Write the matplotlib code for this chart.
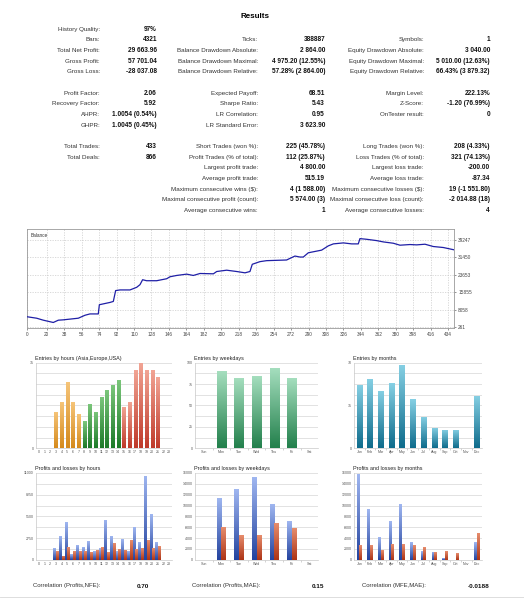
import numpy as np
import matplotlib
matplotlib.use("Agg")
import matplotlib.pyplot as plt
from matplotlib.colors import LinearSegmentedColormap

plt.rcParams['font.family'] = ['Liberation Sans', 'DejaVu Sans']

# ---------------- data ----------------
title = "Results"
table_rows = [0, 1, 2, 3, 4, 6, 7, 8, 9, 11, 12, 13, 14, 15, 16, 17]
col1_labels = ["History Quality:", "Bars:", "Total Net Profit:", "Gross Profit:", "Gross Loss:",
               "Profit Factor:", "Recovery Factor:", "AHPR:", "GHPR:",
               "Total Trades:", "Total Deals:", "", "", "", "", ""]
col1_values = ["97%", "4321", "29 663.96", "57 701.04", "-28 037.08",
               "2.06", "5.92", "1.0054 (0.54%)", "1.0045 (0.45%)",
               "433", "866", "", "", "", "", ""]
col2_labels = ["", "Ticks:", "Balance Drawdown Absolute:", "Balance Drawdown Maximal:", "Balance Drawdown Relative:",
               "Expected Payoff:", "Sharpe Ratio:", "LR Correlation:", "LR Standard Error:",
               "Short Trades (won %):", "Profit Trades (% of total):", "Largest profit trade:",
               "Average profit trade:", "Maximum consecutive wins ($):",
               "Maximal consecutive profit (count):", "Average consecutive wins:"]
col2_values = ["", "388887", "2 864.00", "4 975.20 (12.55%)", "57.28% (2 864.00)",
               "68.51", "5.43", "0.95", "3 623.90",
               "225 (45.78%)", "112 (25.87%)", "4 800.00", "515.19", "4 (1 588.00)",
               "5 574.00 (3)", "1"]
col3_labels = ["", "Symbols:", "Equity Drawdown Absolute:", "Equity Drawdown Maximal:", "Equity Drawdown Relative:",
               "Margin Level:", "Z-Score:", "OnTester result:", "",
               "Long Trades (won %):", "Loss Trades (% of total):", "Largest loss trade:",
               "Average loss trade:", "Maximum consecutive losses ($):",
               "Maximal consecutive loss (count):", "Average consecutive losses:"]
col3_values = ["", "1", "3 040.00", "5 010.00 (12.63%)", "66.43% (3 879.32)",
               "222.13%", "-1.20 (76.99%)", "0", "",
               "208 (4.33%)", "321 (74.13%)", "-200.00", "-87.34", "19 (-1 551.80)",
               "-2 014.88 (18)", "4"]

# balance curve (trade number, balance)
bal_trade = [0, 9.6, 16.5, 26.8, 32, 37, 52.6, 59.5, 64.6, 73.2, 74.3, 85.3, 88.7, 91.1, 95.6,
             105.9, 112.8, 116.2, 118.9, 123, 133.4, 143.7, 147.1, 154, 164.3, 171.2, 178.1,
             191.9, 195.3, 205.6, 215.9, 224.5, 229.6, 232, 239.9, 246.8, 267.4, 270.9, 276,
             281.2, 284.6, 289.8, 298.4, 303.5, 310.4, 315.6, 325.9, 334.5, 341.3, 343, 349.9,
             360.2, 367.1, 377.4, 384.3, 394.6, 401.5, 410.1, 418.6, 428.9, 440]
bal_value = [5000, 4366, 3486, 2460, 3486, 3633, 4366, 5685, 6272, 6272, 10376, 11403, 11843,
             16680, 16970, 16970, 18146, 19319, 21518, 21078, 21078, 21958, 22837, 23424, 24010,
             23424, 24303, 24157, 25183, 25770, 25183, 24597, 25183, 28408, 29581, 30021, 30314,
             31047, 32073, 31634, 31634, 33539, 34272, 34712, 36617, 37497, 37937, 37497, 37497,
             39843, 39550, 38963, 38377, 37791, 36911, 37204, 37058, 37351, 36325, 35885, 34858]
bal_xticks = [0, 20, 38, 56, 74, 92, 110, 128, 146, 164, 182, 200, 218, 236, 254, 272, 290,
              308, 326, 344, 362, 380, 398, 416, 434]
bal_yticks = [261, 8058, 15855, 23653, 31450, 39247]

hours = list(range(24))
hour_labels = [str(h) for h in hours]
entries_hours = [0, 0, 0, 15, 19, 27, 19, 14, 11, 18, 15, 21, 24, 26, 28, 17, 19, 32, 35, 32, 32, 29, 0, 0]
weekdays = ["Sun", "Mon", "Tue", "Wed", "Thu", "Fri", "Sat"]
entries_weekdays = [0, 90, 82, 85, 94, 82, 0]
months = ["Jan", "Feb", "Mar", "Apr", "May", "Jun", "Jul", "Aug", "Sep", "Oct", "Nov", "Dec"]
entries_months = [52, 57, 47, 53, 68, 40, 26, 17, 15, 15, 0, 43]

profit_hours = [0, 0, 0, 1480, 3000, 4740, 720, 1820, 1610, 2410, 1060, 1480, 5080, 3000, 1060,
                2620, 1060, 4100, 2280, 10660, 5800, 2280, 0, 0]
loss_hours = [0, 0, 0, 1060, 510, 1570, 1060, 1100, 1060, 970, 1180, 1570, 970, 2070, 1310,
              1270, 2450, 1310, 1440, 2500, 1520, 1690, 0, 0]
profit_weekdays = [0, 11400, 13060, 15260, 10240, 7110, 0]
loss_weekdays = [0, 6000, 4500, 4600, 6800, 5900, 0]
profit_months = [15870, 9290, 4180, 7130, 10330, 3320, 1540, 1480, 310, 0, 0, 3260]
loss_months = [2700, 2700, 1780, 2890, 2830, 2700, 2340, 1410, 1600, 1230, 0, 4920]

corr_labels = ["Correlation (Profits,NFE):", "Correlation (Profits,MAE):", "Correlation (MFE,MAE):"]
corr_values = ["0.70", "0.15", "-0.0188"]

# ---------------- figure ----------------
W, H = 524, 600
fig = plt.figure(figsize=(W / 100, H / 100), dpi=100)
fig.patch.set_facecolor("white")


def fx(x):
    return x / W


def fy(y):
    return 1 - y / H


def px_axes(l, t, r, b):
    return fig.add_axes([l / W, 1 - b / H, (r - l) / W, (b - t) / H])


# Table
fig.text(fx(255), fy(17), title, ha="center", va="center", fontsize=5.8, fontweight="bold")
lab_fs, val_fs = 4.5, 4.7
lab_col = "#333333"
cols = [(col1_labels, col1_values, 100, 157),
        (col2_labels, col2_values, 258, 325),
        (col3_labels, col3_values, 424, 490)]
for labels, values, lx, vx in cols:
    for r, lab, val in zip(table_rows, labels, values):
        y = 29.3 + 10.65 * r
        if lab:
            fig.text(fx(lx), fy(y), lab, ha="right", va="center", fontsize=lab_fs, color=lab_col)
        if val:
            fig.text(fx(vx), fy(y), val, ha="right", va="center", fontsize=val_fs,
                     fontweight="bold", color="#111111")

# Balance chart
axb = px_axes(27.3, 229.3, 454, 328)
axb.plot(bal_trade, bal_value, color="#1f1fa6", lw=0.9, zorder=3)
axb.set_xlim(0, 440)
axb.set_ylim(0, 44000)
axb.set_xticks(bal_xticks)
axb.set_xticklabels([str(v) for v in bal_xticks])
axb.set_yticks(bal_yticks)
axb.set_yticklabels([str(v) for v in bal_yticks])
axb.yaxis.tick_right()
axb.tick_params(labelsize=3.4, length=1.5, width=0.4, pad=1.5, colors="#444444")
axb.grid(True, color="#c4c4c4", lw=0.45, ls=(0, (2, 2)))
for s in axb.spines.values():
    s.set_color("#9a9a9a")
    s.set_linewidth(0.6)
axb.text(0.007, 0.94, "Balance", transform=axb.transAxes, fontsize=3.4, va="center", ha="left",
         color="#333333")


def grad_bars(ax, x, h, w, top, bot):
    cmap = LinearSegmentedColormap.from_list("g", [bot, top])
    grad = np.linspace(0, 1, 64).reshape(-1, 1)
    bars = ax.bar(x, h, w, color=bot, zorder=3, linewidth=0)
    for r in bars:
        if r.get_height() <= 0:
            continue
        x0, y0 = r.get_xy()
        im = ax.imshow(grad, extent=[x0, x0 + r.get_width(), y0, y0 + r.get_height()],
                       origin="lower", aspect="auto", cmap=cmap, zorder=3.5,
                       interpolation="bilinear")
        im.set_clip_path(r)
    return bars


def style_small(ax, n, ymax, nlines, yticks, xlabels, title, boundary_ticks):
    ax.set_xlim(-0.5, n - 0.5)
    ax.set_ylim(0, ymax)
    for k in range(1, nlines + 1):
        ax.axhline(ymax * k / nlines, color="#d6d6d6", lw=0.5, zorder=1)
    ax.set_yticks(yticks)
    ax.set_yticklabels([str(v) for v in yticks])
    ax.set_xticks(range(n))
    ax.set_xticklabels(xlabels)
    ax.tick_params(axis="both", labelsize=2.6, length=0, pad=1.5, colors="#555555")
    if boundary_ticks:
        ax.set_xticks([i + 0.5 for i in range(n - 1)], minor=True)
        ax.tick_params(axis="x", which="minor", length=1.5, width=0.4, color="#b0b0b0")
    for k in ["top", "right"]:
        ax.spines[k].set_visible(False)
    for k in ["left", "bottom"]:
        ax.spines[k].set_color("#c8c8c8")
        ax.spines[k].set_linewidth(0.5)
    ax.set_title(title, loc="left", fontsize=3.9, pad=2.2, color="#222222", x=-0.005)


# Entries by hours
ax1 = px_axes(36, 362.7, 172, 448.3)
hcolors = []
for h in hours:
    if h <= 7:
        hcolors.append(("#f6c57a", "#d58a1c"))
    elif h <= 14:
        hcolors.append(("#7cc77c", "#1d7a28"))
    else:
        hcolors.append(("#f2a595", "#bf3a2a"))
for h, v, (tc, bc) in zip(hours, entries_hours, hcolors):
    grad_bars(ax1, [h], [v], 0.58, tc, bc)
style_small(ax1, 24, 35, 8, [0, 35], hour_labels, "Entries by hours (Asia,Europe,USA)", False)

# Entries by weekdays
ax2 = px_axes(195, 362.7, 318.3, 448.3)
grad_bars(ax2, range(7), entries_weekdays, 0.53, "#a6dfbf", "#23804c")
style_small(ax2, 7, 100, 8, [0, 25, 50, 75, 100], weekdays, "Entries by weekdays", True)

# Entries by months
ax3 = px_axes(354, 362.7, 482.3, 448.3)
grad_bars(ax3, range(12), entries_months, 0.5, "#86d0e4", "#0f6c8c")
style_small(ax3, 12, 70, 8, [0, 35, 70], months, "Entries by months", True)

# Profits and losses by hours
ax4 = px_axes(36, 473, 172, 559.7)
grad_bars(ax4, [h - 0.23 for h in hours], profit_hours, 0.46, "#9fb6f0", "#23439f")
grad_bars(ax4, [h + 0.23 for h in hours], loss_hours, 0.46, "#e68c6c", "#ad3416")
style_small(ax4, 24, 11000, 8, [0, 2750, 5500, 8250, 11000], hour_labels,
            "Profits and losses by hours", False)

# Profits and losses by weekdays
ax5 = px_axes(195, 473, 318.3, 559.7)
x5 = np.arange(7)
grad_bars(ax5, x5 - 0.13, profit_weekdays, 0.26, "#9fb6f0", "#23439f")
grad_bars(ax5, x5 + 0.13, loss_weekdays, 0.26, "#e68c6c", "#ad3416")
style_small(ax5, 7, 16000, 8, list(range(0, 16001, 2000)), weekdays,
            "Profits and losses by weekdays", True)

# Profits and losses by months
ax6 = px_axes(354, 473, 482.3, 559.7)
x6 = np.arange(12)
grad_bars(ax6, x6 - 0.125, profit_months, 0.25, "#9fb6f0", "#23439f")
grad_bars(ax6, x6 + 0.125, loss_months, 0.25, "#e68c6c", "#ad3416")
style_small(ax6, 12, 16000, 8, list(range(0, 16001, 2000)), months,
            "Profits and losses by months", True)

# Correlations
for lab, val, lx, vx in zip(corr_labels, corr_values, [33, 192, 362], [149, 324, 489]):
    fig.text(fx(lx), fy(586), lab, ha="left", va="center", fontsize=4.3, color=lab_col)
    fig.text(fx(vx), fy(586), val, ha="right", va="center", fontsize=4.6, fontweight="bold",
             color="#111111")
fig.add_artist(plt.Line2D([0, 1], [fy(597), fy(597)], color="#d8d8d8", lw=0.6,
                          transform=fig.transFigure))

fig.savefig("out.png", dpi=100)
